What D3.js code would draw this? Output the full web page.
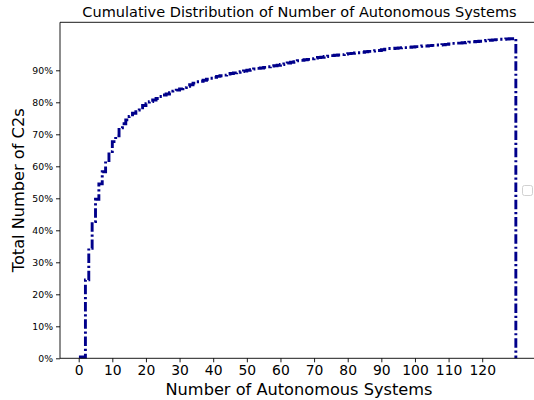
<!DOCTYPE html>
<html>
<head>
<meta charset="utf-8">
<script src="https://cdn.jsdelivr.net/npm/d3@7"></script>
<style>
  html, body { margin: 0; padding: 0; background: #fff; }
  svg { display: block; }
  text { font-family: "DejaVu Sans", sans-serif; }
</style>
</head>
<body>
<svg id="chart" width="534" height="400"></svg>
<script>
// ---- Data ----
// Number of Autonomous Systems at which the cumulative share changes
const asCounts = [
  0.5, 2, 3, 4, 5, 6, 7, 8, 9, 10,
  11, 12, 13, 14, 15, 16, 17, 18, 19, 20,
  21, 22, 23, 24, 25, 26, 27, 28, 29, 30,
  31, 32, 33, 34, 35, 36, 37, 38, 39, 40,
  41, 42, 43, 44, 45, 46, 47, 48, 49, 50,
  51, 52, 53, 54, 55, 56, 57, 58, 59, 60,
  61, 62, 63, 64, 65, 66, 67, 68, 69, 70,
  71, 72, 73, 74, 75, 76, 77, 78, 79, 80,
  81, 82, 83, 84, 85, 86, 87, 88, 89, 90,
  91, 92, 93, 94, 95, 96, 97, 98, 99, 100,
  101, 102, 103, 104, 105, 106, 107, 108, 109, 110,
  111, 112, 113, 114, 115, 116, 117, 118, 119, 120,
  121, 122, 123, 124, 125, 126, 127, 128, 129, 130
];
// Cumulative share of C2s (%) from that count on
const cumulativePct = [
  0.4, 24.5, 34.4, 42.7, 49.7, 54.5, 58.3, 61.8, 64.6, 67.7,
  69.5, 72.0, 73.3, 74.5, 75.6, 76.6, 77.6, 78.3, 79.0, 79.6,
  80.2, 80.7, 81.2, 81.8, 82.3, 82.6, 83.0, 83.5, 83.8, 84.2,
  84.6, 85.0, 85.5, 86.0, 86.4, 86.6, 86.9, 87.2, 87.5, 87.8,
  88.1, 88.3, 88.5, 88.8, 89.0, 89.2, 89.4, 89.6, 89.8, 90.0,
  90.2, 90.4, 90.6, 90.7, 90.9, 91.1, 91.3, 91.4, 91.6, 91.8,
  92.0, 92.3, 92.5, 92.7, 93.0, 93.1, 93.3, 93.4, 93.6, 93.8,
  94.0, 94.1, 94.3, 94.4, 94.6, 94.7, 94.8, 94.9, 95.1, 95.2,
  95.3, 95.4, 95.5, 95.6, 95.8, 95.9, 96.0, 96.1, 96.2, 96.4,
  96.6, 96.8, 96.8, 96.9, 97.0, 97.1, 97.1, 97.2, 97.3, 97.4,
  97.5, 97.6, 97.6, 97.7, 97.8, 97.9, 97.9, 98.0, 98.1, 98.2,
  98.4, 98.5, 98.5, 98.6, 98.7, 98.8, 98.9, 99.0, 99.1, 99.2,
  99.3, 99.4, 99.5, 99.6, 99.7, 99.7, 99.8, 99.85, 99.9, 100
];
const xTicks = [0, 10, 20, 30, 40, 50, 60, 70, 80, 90, 100, 110, 120];
const yTicks = [0, 10, 20, 30, 40, 50, 60, 70, 80, 90];
const yTickLabels = ["0%", "10%", "20%", "30%", "40%", "50%", "60%", "70%", "80%", "90%"];
const xLimits = [-5.56, 135.4];
const yLimits = [0, 105];

const title = "Cumulative Distribution of Number of Autonomous Systems";
const xLabel = "Number of Autonomous Systems";
const yLabel = "Total Number of C2s";

// ---- Layout ----
const plot = { left: 60, right: 534, top: 22.3, bottom: 358.3 };
const svg = d3.select("#chart");

const x = d3.scaleLinear().domain(xLimits).range([plot.left, plot.right]);
const y = d3.scaleLinear().domain(yLimits).range([plot.bottom, plot.top]);

// Step path: start at zero, step through the data, drop back to zero at the end
const pts = [{ x: asCounts[0], y: 0 }];
asCounts.forEach((c, i) => pts.push({ x: c, y: cumulativePct[i] }));
pts.push({ x: asCounts[asCounts.length - 1], y: 0 });

const line = d3.line()
  .x(d => x(d.x))
  .y(d => y(d.y))
  .curve(d3.curveStepAfter);

svg.append("path")
  .datum(pts)
  .attr("d", line)
  .attr("fill", "none")
  .attr("stroke", "#00008b")
  .attr("stroke-width", 2.9)
  .attr("stroke-dasharray", "9.5,2.8,2.2,2.8")
  .attr("stroke-linejoin", "miter");

// ---- Axes ----
const xAxis = d3.axisBottom(x)
  .tickValues(xTicks)
  .tickSize(4)
  .tickPadding(3)
  .tickFormat(d3.format("d"));
const gx = svg.append("g")
  .attr("transform", `translate(0,${plot.bottom})`)
  .call(xAxis);
gx.select(".domain").remove();
gx.selectAll(".tick line").attr("stroke", "#000").attr("stroke-width", 0.9);
gx.selectAll(".tick text")
  .attr("fill", "#000")
  .style("font-size", "13.9px")
  .attr("dy", "0.71em");

const yAxis = d3.axisLeft(y)
  .tickValues(yTicks)
  .tickSize(4)
  .tickPadding(3)
  .tickFormat((d, i) => yTickLabels[i]);
const gy = svg.append("g")
  .attr("transform", `translate(${plot.left},0)`)
  .call(yAxis);
gy.select(".domain").remove();
gy.selectAll(".tick line").attr("stroke", "#000").attr("stroke-width", 0.9);
gy.selectAll(".tick text")
  .attr("fill", "#000")
  .style("font-size", "9.3px");

// Spines
const spine = (x1, y1, x2, y2) => svg.append("line")
  .attr("x1", x1).attr("y1", y1).attr("x2", x2).attr("y2", y2)
  .attr("stroke", "#000").attr("stroke-width", 0.9);
spine(plot.left, plot.top, plot.left, plot.bottom);
spine(plot.left, plot.bottom, plot.right, plot.bottom);
spine(plot.left, plot.top, plot.right, plot.top);

// Empty legend frame
svg.append("rect")
  .attr("x", 522.5).attr("y", 185.5)
  .attr("width", 10).attr("height", 10)
  .attr("rx", 2).attr("ry", 2)
  .attr("fill", "#fff").attr("fill-opacity", 0.8)
  .attr("stroke", "#cccccc").attr("stroke-width", 0.9);

// ---- Labels ----
svg.append("text")
  .attr("x", (plot.left + plot.right) / 2 + 2.5)
  .attr("y", 17)
  .attr("text-anchor", "middle")
  .style("font-size", "14.5px")
  .attr("fill", "#000")
  .text(title);

svg.append("text")
  .attr("x", (plot.left + plot.right) / 2 + 2)
  .attr("y", 395)
  .attr("text-anchor", "middle")
  .style("font-size", "16.2px")
  .attr("fill", "#000")
  .text(xLabel);

svg.append("text")
  .attr("transform", `translate(24,${(plot.top + plot.bottom) / 2}) rotate(-90)`)
  .attr("text-anchor", "middle")
  .style("font-size", "16.2px")
  .attr("fill", "#000")
  .text(yLabel);
</script>
</body>
</html>
